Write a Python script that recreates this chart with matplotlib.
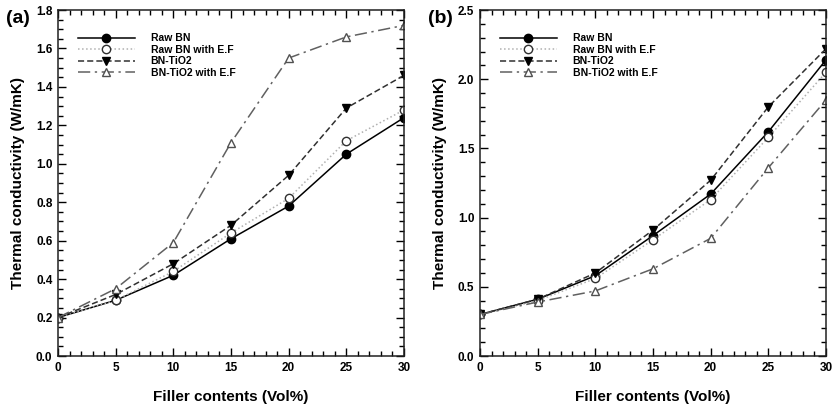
import matplotlib
matplotlib.use("Agg")
import matplotlib.pyplot as plt
from matplotlib.ticker import MultipleLocator

plt.rcParams['font.family'] = ['Liberation Sans', 'DejaVu Sans']
plt.rcParams['font.weight'] = 'bold'

filler = [0, 5, 10, 15, 20, 25, 30]

# panel (a)
a_raw = [0.20, 0.29, 0.42, 0.61, 0.78, 1.05, 1.24]
a_raw_ef = [0.20, 0.29, 0.44, 0.64, 0.82, 1.12, 1.28]
a_tio2 = [0.20, 0.32, 0.48, 0.68, 0.94, 1.29, 1.46]
a_tio2_ef = [0.20, 0.35, 0.59, 1.11, 1.55, 1.66, 1.72]

# panel (b)
b_raw = [0.30, 0.41, 0.58, 0.87, 1.17, 1.62, 2.14]
b_raw_ef = [0.30, 0.40, 0.56, 0.84, 1.13, 1.58, 2.05]
b_tio2 = [0.30, 0.41, 0.60, 0.91, 1.27, 1.80, 2.22]
b_tio2_ef = [0.30, 0.39, 0.47, 0.63, 0.85, 1.36, 1.85]

labels = ['Raw BN', 'Raw BN with E.F', 'BN-TiO2', 'BN-TiO2 with E.F']
styles = [
    dict(color='black', linestyle='-', marker='o', mfc='black', mec='black'),
    dict(color='#b0b0b0', linestyle=':', marker='o', mfc='white', mec='#303030'),
    dict(color='#303030', linestyle=(0, (4, 2)), marker='v', mfc='black', mec='black'),
    dict(color='#606060', linestyle=(0, (8, 3, 1.5, 3)), marker='^', mfc='white', mec='#505050'),
]

fig = plt.figure(figsize=(8.36, 4.15), dpi=100)
ax_a = fig.add_axes([58 / 836, 1 - 356 / 415, 346 / 836, 346 / 415])
ax_b = fig.add_axes([480 / 836, 1 - 356 / 415, 346 / 836, 346 / 415])


def draw_panel(ax, series, ymax, ymajor, yminor, tag):
    for ys, lab, st in zip(series, labels, styles):
        ax.plot(filler, ys, label=lab, linewidth=1.1, markersize=6,
                markeredgewidth=1.0, **st)
    ax.set_xlim(0, 30)
    ax.set_ylim(0, ymax)
    ax.xaxis.set_major_locator(MultipleLocator(5))
    ax.xaxis.set_minor_locator(MultipleLocator(1))
    ax.yaxis.set_major_locator(MultipleLocator(ymajor))
    ax.yaxis.set_minor_locator(MultipleLocator(yminor))
    ax.yaxis.set_major_formatter(plt.FormatStrFormatter('%.1f'))
    ax.tick_params(which='both', direction='in', top=True, right=True,
                   width=1.0, labelsize=8.5, pad=4)
    ax.tick_params(which='major', length=6)
    ax.tick_params(which='minor', length=3.5)
    for sp in ax.spines.values():
        sp.set_linewidth(1.1)
        sp.set_color('#202020')
    ax.set_xlabel('Filler contents (Vol%)', fontsize=11, fontweight='bold', labelpad=12)
    ax.set_ylabel('Thermal conductivity (W/mK)', fontsize=11, fontweight='bold', labelpad=8)
    ax.text(-0.15, 0.975, tag, transform=ax.transAxes, fontsize=14,
            fontweight='bold', ha='left', va='center')
    ax.legend(loc='upper left', bbox_to_anchor=(0.03, 0.96), frameon=False,
              fontsize=7.5, handlelength=5.5, handletextpad=1.5,
              labelspacing=0.15, prop=dict(weight='bold', size=7.5))


draw_panel(ax_a, [a_raw, a_raw_ef, a_tio2, a_tio2_ef], 1.8, 0.2, 0.05, '(a)')
draw_panel(ax_b, [b_raw, b_raw_ef, b_tio2, b_tio2_ef], 2.5, 0.5, 0.1, '(b)')

fig.savefig('out.png', dpi=100)
